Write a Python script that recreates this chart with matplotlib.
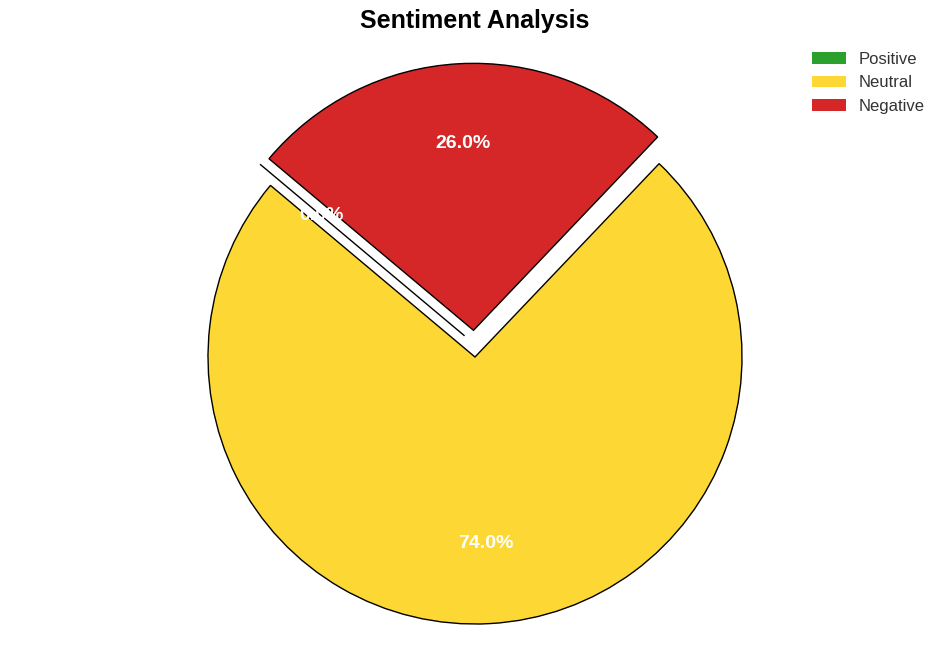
import matplotlib
matplotlib.use("Agg")
import matplotlib.pyplot as plt
from matplotlib.transforms import offset_copy

labels = ["Positive", "Neutral", "Negative"]
values = [0.0, 74.0, 26.0]
colors = ["#2ca02c", "#FDD835", "#d62728"]
explode = [0.1, 0.0, 0.1]

plt.rcParams['font.family'] = ['Liberation Sans', 'DejaVu Sans']

fig = plt.figure(figsize=(9.5, 6.62), dpi=100)
ax = fig.add_axes([0, 0, 1, 1])
wedges, texts, autotexts = ax.pie(
    values, colors=colors, explode=explode, startangle=140,
    autopct='%1.1f%%', pctdistance=0.7,
    wedgeprops=dict(edgecolor='black', linewidth=1),
    textprops=dict(color='white', fontsize=14, fontweight='bold'))
ax.set_aspect('equal')
ax.set_xlim(-475/267, 475/267)
ax.set_ylim(-305/267, 357/267)
ax.axis('off')

# small visual nudge of the zero-size slice, as in the reference rendering
shift = offset_copy(ax.transData, fig=fig, x=10, y=4, units='dots')
wedges[0].set_transform(shift)
autotexts[0].set_transform(shift)

fig.text(0.5, 1 - 21/662, "Sentiment Analysis", ha='center', va='center',
         fontsize=18, fontweight='bold')
leg = fig.legend(wedges, labels, loc='upper right', bbox_to_anchor=(0.9895, 0.944),
                 frameon=False, fontsize=12)
for t in leg.get_texts():
    t.set_color('#333333')
for h in leg.legend_handles:
    h.set_edgecolor('none')

fig.savefig("out.png", dpi=100)
